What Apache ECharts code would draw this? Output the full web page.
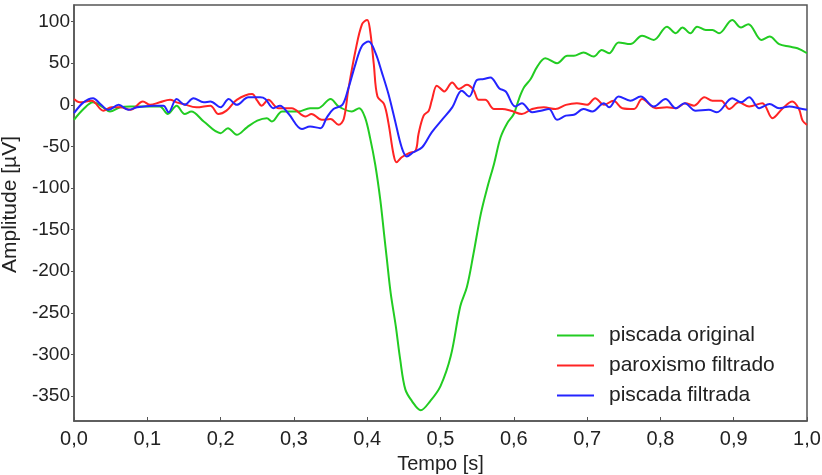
<!DOCTYPE html>
<html>
<head>
<meta charset="utf-8">
<script src="https://cdn.jsdelivr.net/npm/echarts@6/dist/echarts.min.js"></script>
<style>html,body{margin:0;padding:0;background:#fff}#c{width:822px;height:475px}</style>
</head>
<body>
<div id="c"></div>
<script>
// Tick labels
const xTicks = [0, 0.1, 0.2, 0.3, 0.4, 0.5, 0.6, 0.7, 0.8, 0.9, 1.0];
const yTicks = [-350, -300, -250, -200, -150, -100, -50, 0, 50, 100];
const seriesNames = ['piscada original', 'paroxismo filtrado', 'piscada filtrada'];

// piscada original (green)
const greenT = [0.000,0.013,0.026,0.038,0.049,0.063,0.077,0.095,0.117,0.128,0.140,0.151,0.160,0.177,0.200,0.210,0.222,0.236,0.250,0.263,0.270,0.284,0.306,0.322,0.333,0.350,0.361,0.379,0.389,0.397,0.404,0.411,0.418,0.423,0.427,0.432,0.439,0.445,0.452,0.461,0.473,0.486,0.500,0.514,0.527,0.536,0.545,0.555,0.564,0.573,0.582,0.591,0.600,0.607,0.614,0.623,0.632,0.643,0.659,0.673,0.682,0.695,0.709,0.720,0.730,0.743,0.759,0.775,0.791,0.809,0.821,0.830,0.841,0.850,0.862,0.871,0.880,0.898,0.910,0.920,0.938,0.949,0.962,0.976,0.987,1.000];
const greenV = [-18,-5,3,-2,-8,-3,-2,-2,-2,-11,-1,-11,-8,-20,-34,-28,-36,-27,-19,-16,-20,-8,-8,-4,-4,7,-2,-8,-4,-15,-40,-72,-115,-155,-187,-226,-266,-306,-342,-356,-367,-356,-338,-302,-242,-219,-179,-131,-99,-71,-39,-22,-11,7,21,31,46,56,50,59,59,63,58,66,62,75,73,83,78,94,86,93,86,94,90,90,86,102,93,97,78,82,73,70,68,62];

// paroxismo filtrado (red)
const redT = [0.000,0.008,0.024,0.040,0.051,0.063,0.077,0.094,0.104,0.117,0.131,0.140,0.149,0.167,0.186,0.197,0.208,0.222,0.243,0.250,0.256,0.265,0.279,0.297,0.316,0.324,0.338,0.350,0.361,0.368,0.374,0.384,0.393,0.400,0.404,0.409,0.414,0.423,0.429,0.436,0.440,0.447,0.457,0.466,0.470,0.477,0.484,0.488,0.495,0.502,0.505,0.516,0.525,0.536,0.545,0.552,0.561,0.573,0.584,0.596,0.611,0.625,0.641,0.657,0.671,0.686,0.700,0.711,0.723,0.736,0.748,0.764,0.775,0.794,0.809,0.821,0.834,0.846,0.860,0.871,0.883,0.894,0.907,0.921,0.939,0.953,0.967,0.980,0.989,0.994,1.000];
const redV = [7,3,5,-7,-3,-3,-6,4,0,3,6,3,1,-3,-1,-11,-7,6,13,5,-1,6,-4,-4,-14,-11,-18,-17,-24,-17,17,65,97,102,89,49,10,1,-22,-60,-69,-63,-58,-55,-35,-13,-7,5,23,18,16,27,19,24,18,6,6,-5,-5,-7,-11,-5,-3,-5,0,2,0,8,0,5,-4,-5,7,-4,-3,-4,2,-1,9,5,5,-5,3,-2,2,-16,-4,4,-5,-19,-24];

// piscada filtrada (blue)
const blueT = [0.000,0.013,0.026,0.036,0.047,0.061,0.074,0.086,0.108,0.122,0.129,0.140,0.151,0.163,0.177,0.186,0.200,0.211,0.222,0.238,0.254,0.261,0.272,0.281,0.293,0.311,0.322,0.336,0.345,0.354,0.366,0.374,0.384,0.393,0.402,0.411,0.420,0.429,0.438,0.447,0.454,0.463,0.475,0.488,0.502,0.516,0.529,0.539,0.550,0.559,0.568,0.580,0.589,0.602,0.611,0.625,0.637,0.648,0.659,0.671,0.682,0.695,0.707,0.723,0.730,0.743,0.759,0.773,0.791,0.807,0.821,0.833,0.848,0.866,0.877,0.898,0.910,0.921,0.935,0.949,0.962,0.976,0.989,1.000];
const blueV = [-10,3,8,1,-6,0,-6,-3,-1,-1,-9,7,0,8,3,4,-3,7,0,9,9,7,-4,-1,-11,-29,-26,-28,-15,-5,0,19,49,71,76,63,39,13,-19,-51,-62,-57,-51,-33,-18,-3,17,10,30,31,33,20,16,-2,2,-9,-7,-5,-18,-13,-12,-5,-8,2,-3,10,5,10,-2,7,-4,2,-7,-6,-9,8,3,9,-4,1,-4,-2,-4,-6];

const colors = ['#22cc22', '#ff2424', '#2424ff'];
const zip = (t, v) => t.map((x, i) => [x, v[i]]);
const font = '"Liberation Sans", Arial, sans-serif';

const chart = echarts.init(document.getElementById('c'), null, {renderer: 'canvas'});
chart.setOption({
  animation: false,
  backgroundColor: '#fff',
  grid: {left: 74, right: 15, top: 5, bottom: 54, containLabel: false, outerBoundsMode: 'none',
    show: true, borderColor: '#555', borderWidth: 1.5},
  legend: {
    orient: 'vertical', left: 557, top: 325, padding: 0,
    itemWidth: 37, itemHeight: 2, itemGap: 9, icon: 'rect',
    textStyle: {fontSize: 21, color: '#222', fontFamily: font, padding: [0, 0, 0, 10]},
    data: seriesNames
  },
  xAxis: {
    type: 'value', min: 0, max: 1, interval: 0.1,
    name: 'Tempo [s]', nameLocation: 'middle', nameGap: 33,
    nameTextStyle: {fontSize: 20, color: '#222', fontFamily: font},
    axisLine: {onZero: false, lineStyle: {color: '#555', width: 1.5}},
    axisTick: {inside: true, length: 4, lineStyle: {color: '#555'}},
    axisLabel: {fontSize: 20, color: '#222', fontFamily: font, margin: 8,
      formatter: v => v.toFixed(1).replace('.', ',')},
    splitLine: {show: false}
  },
  yAxis: {
    type: 'value', min: -380, max: 120,
    name: 'Amplitude [µV]', nameLocation: 'middle', nameGap: 43,
    nameTextStyle: {fontSize: 21, color: '#222', fontFamily: font, padding: [0, 0, 0, 17]},
    axisLine: {show: true, onZero: false, lineStyle: {color: '#555', width: 1.5}},
    axisTick: {show: true, length: 3, customValues: yTicks, lineStyle: {color: '#555'}},
    axisLabel: {fontSize: 19, color: '#222', fontFamily: font, margin: 4, customValues: yTicks},
    splitLine: {show: false}
  },
  series: [
    {name: seriesNames[0], type: 'line', data: zip(greenT, greenV)},
    {name: seriesNames[1], type: 'line', data: zip(redT, redV)},
    {name: seriesNames[2], type: 'line', data: zip(blueT, blueV)}
  ].map((s, i) => Object.assign(s, {
    showSymbol: false, smooth: 0.35, color: colors[i],
    lineStyle: {width: 2, color: colors[i]}
  }))
});
</script>
</body>
</html>
